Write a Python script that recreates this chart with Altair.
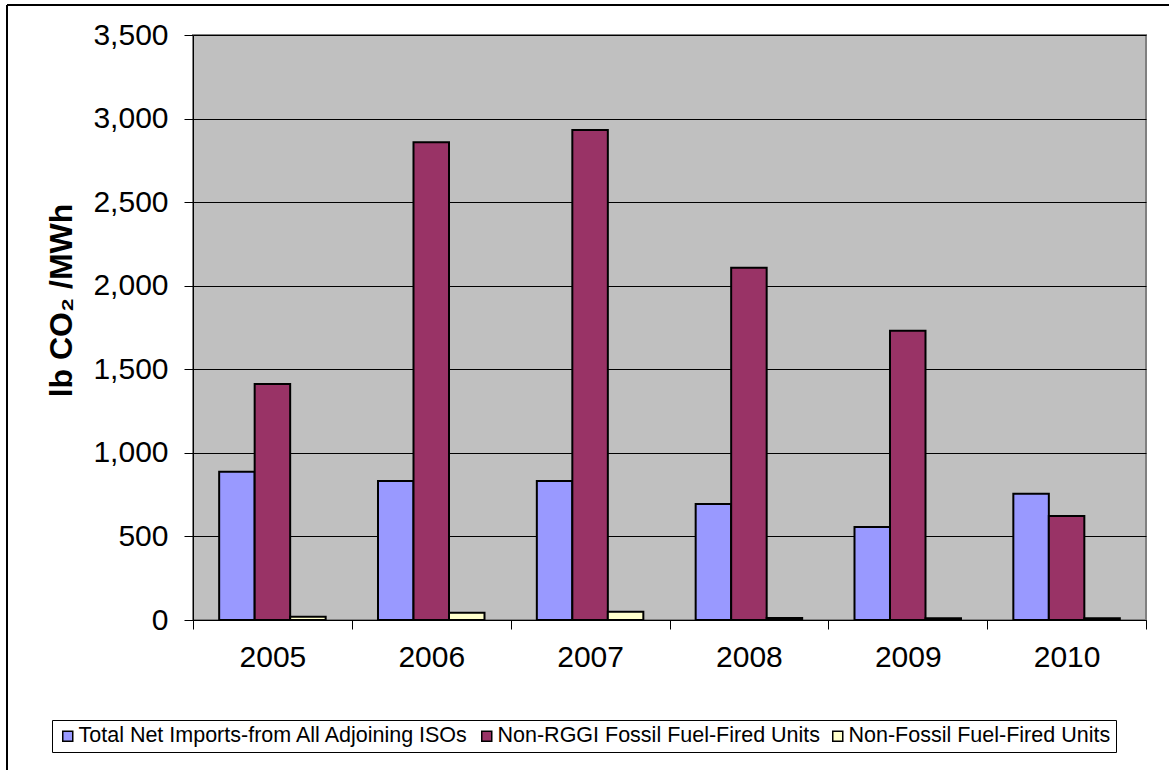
import altair as alt
import pandas as pd

# Emission rates of generation serving the region, lb CO2 per MWh
years = ["2005", "2006", "2007", "2008", "2009", "2010"]
net_imports = [887, 832, 832, 694, 556, 755]
non_rggi_fossil = [1412, 2858, 2932, 2108, 1731, 622]
non_fossil = [20, 44, 50, 12, 10, 10]

series_names = [
    "Total Net Imports-from All Adjoining ISOs",
    "Non-RGGI Fossil Fuel-Fired Units",
    "Non-Fossil Fuel-Fired Units",
]
series_colors = ["#9999FF", "#993366", "#FFFFCC"]

rows = []
for name, values in zip(series_names, [net_imports, non_rggi_fossil, non_fossil]):
    for year, v in zip(years, values):
        rows.append({"Year": year, "Series": name, "Value": v})
df = pd.DataFrame(rows)

W, H = 953, 585
FONT = "Liberation Sans"

bars = alt.Chart(df).mark_bar(stroke="black", strokeWidth=2).encode(
    x=alt.X(
        "Year:N",
        sort=years,
        scale=alt.Scale(paddingInner=0, paddingOuter=0),
        axis=alt.Axis(
            title=None,
            labelAngle=0,
            labelFontSize=30,
            labelColor="black",
            labelPadding=13,
            tickBand="extent",
            tickSize=9,
            tickColor="black",
            domainColor="black",
            grid=False,
        ),
    ),
    xOffset=alt.XOffset(
        "Series:N",
        sort=series_names,
        scale=alt.Scale(paddingInner=0, paddingOuter=0.737),
    ),
    y=alt.Y(
        "Value:Q",
        scale=alt.Scale(domain=[0, 3500], nice=False),
        axis=alt.Axis(
            title="lb CO₂ /MWh",
            titleFontSize=32,
            titleFontWeight="bold",
            titleColor="black",
            titlePadding=14,
            titleY=265,
            values=list(range(0, 3501, 500)),
            format=",d",
            labelFontSize=30,
            labelColor="black",
            labelPadding=16,
            tickSize=9,
            tickColor="black",
            domainColor="black",
            grid=True,
            gridColor="#000000",
            gridWidth=1,
        ),
    ),
    color=alt.Color(
        "Series:N",
        sort=series_names,
        scale=alt.Scale(domain=series_names, range=series_colors),
        legend=alt.Legend(
            title=None,
            orient="none",
            legendX=-141,
            legendY=685,
            direction="horizontal",
            columns=3,
            symbolType="square",
            symbolSize=100,
            symbolStrokeColor="black",
            symbolStrokeWidth=1.5,
            labelFontSize=21.5,
            labelColor="black",
            labelLimit=0,
            labelOffset=0,
            columnPadding=6,
            padding=5,
            strokeColor="black",
            fillColor="white",
        ),
    ),
)

frame_data = alt.InlineData(values=[{"k": 1}])
frame_left = alt.Chart(frame_data).mark_rule(color="black", strokeWidth=2).encode(
    x=alt.value(-186), y=alt.value(-30), y2=alt.value(740)
)
frame_top = alt.Chart(frame_data).mark_rule(color="black", strokeWidth=2).encode(
    x=alt.value(-186), x2=alt.value(980), y=alt.value(-30)
)

chart = (
    alt.layer(bars, frame_left, frame_top)
    .properties(
        width=W,
        height=H,
        autosize=alt.AutoSizeParams(type="none"),
        padding={"left": 193, "top": 35, "right": 23, "bottom": 150},
        background="white",
    )
    .configure(font=FONT)
    .configure_view(fill="#C0C0C0", stroke="#808080", strokeWidth=2)
)

chart.save("out.html", embed_options={"renderer": "svg", "actions": False})
